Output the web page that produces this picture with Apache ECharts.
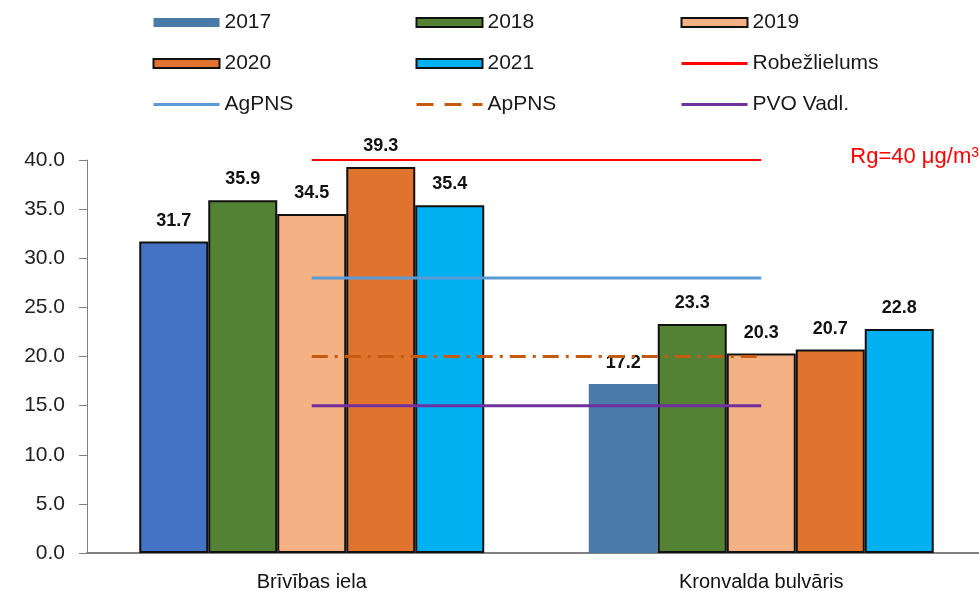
<!DOCTYPE html>
<html>
<head>
<meta charset="utf-8">
<script src="https://cdn.jsdelivr.net/npm/echarts@6/dist/echarts.min.js"></script>
<style>
  html, body { margin: 0; padding: 0; background: #fff; }
  #chart { width: 979px; height: 591px; }
</style>
</head>
<body>
<div id="chart"></div>
<script>
// kategorijas un vērtības
const categories = ['Brīvības iela', 'Kronvalda bulvāris']
const years = ['2017', '2018', '2019', '2020', '2021']
const values2017 = [31.7, 17.2]
const values2018 = [35.9, 23.3]
const values2019 = [34.5, 20.3]
const values2020 = [39.3, 20.7]
const values2021 = [35.4, 22.8]
const yTicks = [0, 5, 10, 15, 20, 25, 30, 35, 40]

// robežvērtības
const robezlielums = [40, 40]
const agPNS = [28, 28]
const apPNS = [20, 20]
const pvoVadl = [15, 15]

const font = "'Liberation Sans', Arial, sans-serif"
const chart = echarts.init(document.getElementById('chart'))

const barValues = [values2017, values2018, values2019, values2020, values2021]
const barColors = ['#4a7aa8', '#548235', '#f4b183', '#e0742f', '#00b0f0']

const barSeries = years.map((name, i) => {
  const s = {
    name: name,
    type: 'bar',
    barWidth: 69,
    barGap: '0%',
    itemStyle: { color: barColors[i], borderColor: '#111', borderWidth: 2 },
    label: {
      show: true,
      position: 'top',
      distance: 12,
      fontFamily: font,
      fontWeight: 'bold',
      fontSize: 18,
      color: '#111',
      formatter: (p) => p.value.toFixed(1),
    },
    data: barValues[i],
  }
  if (i === 0) {
    // 2017: Kronvalda stabiņš bez apmales, Brīvības - cita krāsa ar apmali
    s.itemStyle = { color: barColors[0], borderWidth: 0 }
    s.data = barValues[0].map((v, k) => k === 0
      ? { value: v, itemStyle: { color: '#4472c4', borderColor: '#111', borderWidth: 2 } }
      : v)
  }
  return s
})

function limitLine(name, data, color, width, type) {
  return {
    name: name,
    type: 'line',
    symbol: 'none',
    silent: true,
    z: 5,
    lineStyle: { color: color, width: width, type: type },
    itemStyle: { color: color },
    data: data,
  }
}

const lineSeries = [
  limitLine('Robežlielums', robezlielums, '#ff0000', 2, 'solid'),
  limitLine('AgPNS', agPNS, '#5b9bd5', 3, 'solid'),
  limitLine('ApPNS', apPNS, '#c55a11', 3, [16, 7, 3, 7]),
  limitLine('PVO Vadl.', pvoVadl, '#7030a0', 3, 'solid'),
]

const legendBase = {
  orient: 'vertical',
  top: 12,
  padding: 0,
  itemWidth: 66,
  itemHeight: 9,
  itemGap: 20,
  textStyle: { fontFamily: font, fontSize: 21, color: '#1a1a1a' },
}

const rectItem = (name) => ({ name: name, icon: 'rect' })
// līnijām leģendā bez punkta
const lineItem = (name, lineStyle) => ({
  name: name,
  itemStyle: { opacity: 0 },
  lineStyle: Object.assign({ width: 3 }, lineStyle || {}),
})

const option = {
  animation: false,
  legend: [
    Object.assign({}, legendBase, { left: 152, data: [rectItem('2017'), rectItem('2020'), lineItem('AgPNS')] }),
    Object.assign({}, legendBase, { left: 415, data: [rectItem('2018'), rectItem('2021'), lineItem('ApPNS', { type: [17, 11] })] }),
    Object.assign({}, legendBase, { left: 680, data: [rectItem('2019'), lineItem('Robežlielums'), lineItem('PVO Vadl.')] }),
  ],
  grid: { left: 87, top: 160, width: 899, bottom: 38, outerBoundsMode: 'none' },
  xAxis: {
    type: 'category',
    data: categories,
    axisLine: { lineStyle: { color: '#808080', width: 2 } },
    axisTick: { length: 8, lineStyle: { color: '#808080' } },
    axisLabel: { fontFamily: font, fontSize: 20, color: '#111', margin: 19 },
  },
  yAxis: {
    type: 'value',
    min: yTicks[0],
    max: yTicks[yTicks.length - 1],
    interval: 5,
    splitLine: { show: false },
    axisLine: { show: true, lineStyle: { color: '#808080', width: 1 } },
    axisTick: { show: true, length: 8, lineStyle: { color: '#808080' } },
    axisLabel: {
      fontFamily: font,
      fontSize: 21,
      color: '#222',
      margin: 22,
      formatter: (v) => v.toFixed(1),
    },
  },
  graphic: [
    {
      type: 'text',
      right: 0,
      top: 146,
      style: {
        text: '{a|Rg=40 μg/m}{b|3}',
        rich: {
          a: { fontFamily: font, fontSize: 22, fill: '#ff0000', verticalAlign: 'bottom' },
          b: { fontFamily: font, fontSize: 14, fill: '#ff0000', verticalAlign: 'top', padding: [0, 0, 8, 0] },
        },
      },
    },
  ],
  series: barSeries.concat(lineSeries),
}

chart.setOption(option)
</script>
</body>
</html>
